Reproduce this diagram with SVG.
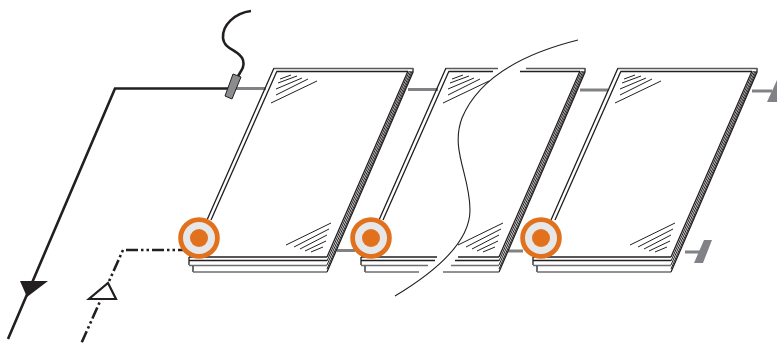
<svg xmlns="http://www.w3.org/2000/svg" width="777" height="344" viewBox="0 0 777 344">
<style>
.l{fill:none;stroke:#231f20;stroke-width:1.3}
.g{fill:none;stroke:#6d6e71;stroke-width:1.6}
.t{fill:none;stroke:#58595b;stroke-width:1.7}
.h{fill:none;stroke:#231f20;stroke-width:1}
.c{fill:none;stroke:#808285;stroke-width:3}
.b{fill:#808285;stroke:none}
.k{fill:none;stroke:#231f20;stroke-width:2.6}
.d{fill:none;stroke:#231f20;stroke-width:2.6;stroke-dasharray:12 3 2.5 3 2.5 3}
.ring{fill:#e6e7e8;stroke:#e2711d;stroke-width:4.8}
.dot{fill:#e2711d}
</style>
<defs>
<g id="sides">
<path class="l" d="M274,68L207,220M277,71L211,220"/>
<path class="l" d="M413,68V72L327,272M408,71L327,257"/>
<path class="h" d="M409.5,71L327,261M411,71L327,265M412.3,71L327,269"/>
<path class="h" d="M280,79L291,75M278,83L297,76M276,89L302,78M276,95L308,79M271,103L317,81"/>
<path class="h" d="M286,245L331,223M294,247L329,229M300,249L327,235M305,251L326,241M311,252L323,247"/>
</g>
<g id="tb">
<path class="t" d="M274,68.5H413"/>
<path class="l" d="M277,71.5H408"/>
<path class="l" d="M189,257H327M189,260.5H327M189,257V265"/>
<path class="g" d="M189,265.5H327"/>
<path class="l" d="M193,266V272"/>
<path class="g" d="M193,272H327"/>
</g>
<g id="mark">
<circle class="ring" cx="199" cy="238" r="18.4"/>
<circle class="dot" cx="199" cy="238" r="9"/>
</g>
</defs>
<g id="connectors">
<path class="k" d="M229,88.5H115L8,339"/>
<path class="c" d="M229,88.5H266M408,89.5H438M580,90H608M752,91H772M337,250.5H355M508,251H523M685,252H704"/>
<path class="d" d="M190,250H123L81,344"/>
<polygon points="20,281 48,281 27,297" fill="#231f20"/>
<polygon points="108,283 116,299 89,299" fill="#fff" stroke="#231f20" stroke-width="2.2"/>
</g>
<g id="panel-1"><use href="#sides"/><use href="#tb"/></g>
<g id="panel-2">
<use href="#sides" x="172"/>
<path class="t" d="M446,68.5H498M526,68.5H585"/>
<path class="l" d="M449,71.5H493M520,71.5H580"/>
<path class="l" d="M361,257H437M458,257H499M361,260.5H435M455,260.5H499M361,257V265"/>
<path class="g" d="M361,265.5H428M451,265.5H499"/>
<path class="l" d="M365,266V272"/>
<path class="g" d="M365,272H419M443,272H499"/>
</g>
<g id="panel-3"><use href="#sides" x="344"/><use href="#tb" x="344"/></g>
<g id="bracket-top"><polygon class="b" points="767,102 777,80 777,102"/></g>
<g id="bracket-bottom"><polygon class="b" points="704,240 712,240 703,263 694,263"/></g>
<path id="break-line" fill="none" stroke="#231f20" stroke-width="1.1" d="M578,40C530,52 480,75 462,118C450,150 470,175 470,210C470,245 430,275 395,296"/>
<g id="sensor">
<path fill="none" stroke="#231f20" stroke-width="2.6" d="M251,11C235,13 222,25 223,38C224,50 240,50 243,60C245,67 241,71 238,76"/>
<polygon points="233,74 241,77 232,99 225,96" fill="#8a8c8e" stroke="#231f20" stroke-width="1"/>
</g>
<g id="valve-1"><use href="#mark"/></g>
<g id="valve-2"><use href="#mark" x="172"/></g>
<g id="valve-3"><use href="#mark" x="342"/></g>
</svg>
